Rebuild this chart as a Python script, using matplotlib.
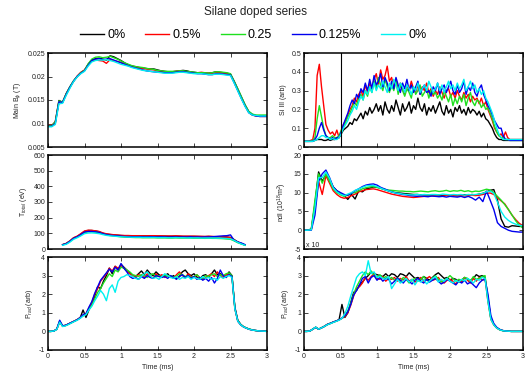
import numpy as np
import matplotlib
matplotlib.use("Agg")
import matplotlib.pyplot as plt
from matplotlib.ticker import FuncFormatter

plt.rcParams['font.family'] = ['Liberation Sans', 'DejaVu Sans']
plt.rcParams['mathtext.fontset'] = 'custom'
plt.rcParams['mathtext.rm'] = 'Liberation Sans'
plt.rcParams['mathtext.it'] = 'Liberation Sans:italic'

# ---------------- data ----------------
series_labels = ["0%", "0.5%", "0.25", "0.125%", "0%"]
series_colors = ["#000000", "#ff0000", "#1ee01e", "#0000ee", "#00f0f0"]

# Main B_phi (T x 1e-3), 0..3 ms
bphi_black = [9.5,9.5,10.4,14.9,14.5,16.4,17.8,19.0,20.0,20.8,21.3,22.6,23.5,23.8,23.9,23.7,23.5,24.4,24.2,23.8,23.4,22.9,22.5,22.2,22.1,21.9,21.8,21.7,21.6,21.6,21.4,21.2,21.1,21.0,21.0,21.1,21.2,21.3,21.2,21.0,20.9,20.8,20.8,20.7,20.7,20.8,21.0,20.9,20.8,20.7,20.5,19.0,17.3,15.6,13.9,12.5,11.9,11.7,11.6,11.6,11.6]
bphi_red = [9.6,9.6,10.2,14.7,14.6,16.2,17.7,19.0,20.1,20.9,21.4,22.5,23.3,23.5,23.4,23.3,22.8,23.6,23.4,23.2,23.0,22.7,22.4,22.2,22.0,21.8,21.7,21.6,21.5,21.4,21.2,21.1,21.0,21.0,21.0,21.1,21.2,21.1,21.0,20.9,20.8,20.8,20.9,20.8,20.7,20.7,20.9,20.8,20.8,20.6,20.4,18.8,17.1,15.4,13.8,12.4,11.8,11.6,11.5,11.5,11.5]
bphi_green = [9.5,9.5,10.3,14.8,14.6,16.3,17.8,19.1,20.0,20.8,21.3,22.7,23.7,24.1,24.2,24.0,24.1,24.3,24.0,23.7,23.3,22.9,22.6,22.3,22.1,22.0,21.9,21.7,21.6,21.5,21.3,21.2,21.1,21.1,21.1,21.1,21.2,21.2,21.1,21.0,20.9,20.8,20.8,20.8,20.7,20.8,21.0,21.0,20.9,20.8,20.6,19.0,17.4,15.7,14.0,12.6,12.0,11.8,11.8,11.8,11.8]
bphi_blue = [9.4,9.4,10.0,14.6,14.5,16.2,17.7,19.0,20.0,20.7,21.2,22.4,23.4,23.7,23.8,23.6,23.7,23.8,23.5,23.2,22.9,22.6,22.3,22.0,21.8,21.6,21.4,21.2,21.1,21.0,20.9,20.9,20.8,20.8,20.8,20.9,21.0,21.0,20.9,20.8,20.7,20.6,20.6,20.5,20.4,20.4,20.6,20.6,20.5,20.4,20.3,18.7,17.0,15.3,13.7,12.3,11.8,11.6,11.5,11.5,11.5]
bphi_cyan = [9.3,9.3,9.8,14.2,14.3,16.0,17.5,18.9,19.9,20.6,21.1,22.2,23.1,23.4,23.5,23.5,23.6,23.4,23.2,22.9,22.6,22.4,22.2,21.9,21.7,21.5,21.3,21.2,21.1,21.0,20.9,20.8,20.7,20.7,20.7,20.8,20.9,20.9,20.8,20.7,20.6,20.6,20.6,20.5,20.4,20.4,20.5,20.5,20.4,20.3,20.2,18.6,16.9,15.2,13.6,12.3,11.8,11.7,11.6,11.6,11.6]

# T_total (eV), 0.2..2.7 ms
te_start, te_end = 0.2, 2.7
te_black = [28,35,50,70,80,95,112,118,118,115,110,100,95,92,90,88,86,85,85,84,84,83,83,83,84,83,82,82,82,81,81,82,81,80,80,80,80,80,79,79,80,79,78,78,77,76,74,60,45,35,25]
te_red = [28,36,52,72,82,98,115,120,119,116,112,103,97,94,91,89,87,86,86,85,85,85,84,84,85,85,84,84,83,83,83,84,83,82,82,82,82,81,81,80,81,80,79,79,78,76,72,58,44,34,25]
te_green = [26,33,48,66,76,88,104,110,110,108,104,96,90,86,84,81,78,76,75,74,73,73,72,72,72,72,71,71,71,70,70,71,70,70,70,70,69,69,69,68,69,68,68,67,66,64,62,52,40,32,24]
te_blue = [27,34,49,68,78,92,108,112,112,110,106,98,92,88,86,84,82,80,79,79,78,79,78,77,79,78,77,78,77,76,77,77,76,77,76,78,76,77,76,77,77,78,80,82,84,85,90,55,45,38,28]
te_cyan = [24,30,44,62,72,84,98,102,103,101,98,92,87,84,82,80,78,77,76,75,75,75,74,74,74,74,73,73,73,72,72,73,72,72,71,71,71,71,70,70,70,70,69,69,68,67,65,55,42,32,24]

# P_rad left (arb), 0..3 ms
prl_black = [0,0,0.02,0.12,0.55,0.30,0.33,0.40,0.47,0.55,
             0.62,0.72,1.15,0.75,1.15,1.45,1.90,2.40,2.30,2.70,
             3.00,3.40,3.10,3.50,3.30,3.60,3.45,3.30,3.15,3.00,
             2.95,3.10,3.25,3.05,3.30,3.10,3.00,3.20,3.05,2.95,
             3.00,3.10,2.90,3.00,2.85,2.95,3.20,3.30,3.10,3.00,
             3.10,2.90,2.80,3.00,3.05,2.90,3.10,3.30,3.05,3.10,
             3.00,2.90,3.20,3.00,1.30,0.60,0.38,0.25,0.18,0.12,
             0.08,0.05,0.03,0.02,0.01,0.0]
prl_red = [0,0,0.02,0.12,0.50,0.28,0.32,0.40,0.48,0.56,
           0.64,0.75,0.85,0.95,1.25,1.55,2.00,2.30,2.70,2.90,
           3.10,3.40,3.25,3.50,3.40,3.55,3.40,3.25,3.10,3.00,
           2.95,3.05,3.00,2.90,3.10,3.00,2.85,3.10,2.95,3.05,
           2.90,3.00,2.95,2.85,3.05,3.20,3.00,2.90,3.10,2.95,
           2.90,3.05,2.85,2.80,2.90,3.00,3.10,2.95,3.20,3.00,
           2.90,3.05,3.10,2.95,1.20,0.55,0.35,0.24,0.17,0.11,
           0.07,0.05,0.03,0.02,0.01,0.0]
prl_green = [0,0,0.02,0.12,0.52,0.28,0.31,0.38,0.46,0.54,
             0.62,0.72,0.85,0.92,1.20,1.40,1.75,2.10,2.30,2.60,
             2.85,3.10,2.95,3.30,3.20,3.45,3.40,3.30,3.20,3.05,
             3.00,2.95,3.05,3.00,2.90,3.05,3.10,2.95,3.00,2.90,
             3.05,2.95,3.00,2.90,2.95,3.10,3.05,2.95,3.00,2.90,
             2.95,3.05,2.90,2.85,3.00,2.95,3.05,3.10,2.95,3.05,
             3.00,3.10,3.15,3.00,1.25,0.58,0.37,0.25,0.18,0.12,
             0.08,0.05,0.03,0.02,0.01,0.0]
prl_blue = [0,0,0.02,0.12,0.60,0.30,0.32,0.40,0.48,0.55,
            0.63,0.74,0.90,0.95,1.30,1.60,2.05,2.40,2.75,2.95,
            3.15,3.35,3.20,3.45,3.30,3.65,3.40,3.20,2.95,2.85,
            2.90,2.80,2.95,2.85,3.00,2.90,2.85,3.00,2.95,2.90,
            2.95,2.85,3.00,2.90,2.80,2.95,3.05,2.90,3.00,2.85,
            2.95,2.80,2.90,2.75,2.85,2.70,2.90,2.60,2.85,3.30,
            3.00,2.90,3.05,2.95,1.25,0.55,0.35,0.24,0.17,0.11,
            0.07,0.05,0.03,0.02,0.01,0.0]
prl_cyan = [0,0,0.02,0.10,0.50,0.26,0.30,0.37,0.45,0.53,
            0.60,0.70,0.82,0.90,1.15,1.35,1.65,1.90,2.20,2.00,
            1.65,2.30,2.50,2.10,2.70,2.90,2.95,3.05,3.00,2.95,
            2.85,2.80,2.95,3.10,3.20,3.00,2.85,2.90,2.80,2.95,
            3.10,3.00,2.90,2.85,2.95,2.80,2.90,2.85,2.95,2.80,
            2.90,2.85,2.80,2.95,2.85,2.90,2.80,2.85,2.75,2.95,
            2.85,2.95,3.00,2.90,1.20,0.55,0.35,0.24,0.17,0.11,
            0.07,0.05,0.03,0.02,0.01,0.0]

# Si III (arb), 0..3 ms
si_marker_time = 0.5
si_black = [0.03,0.03,0.03,0.03,0.03,0.035,0.04,0.04,0.04,0.035,
            0.035,0.04,0.035,0.04,0.04,0.045,0.05,0.07,0.09,0.10,
            0.11,0.13,0.12,0.15,0.14,0.16,0.18,0.15,0.19,0.17,
            0.21,0.18,0.20,0.23,0.19,0.22,0.17,0.24,0.20,0.18,
            0.22,0.19,0.25,0.21,0.17,0.23,0.19,0.21,0.24,0.18,
            0.22,0.20,0.26,0.21,0.19,0.23,0.17,0.21,0.19,0.22,
            0.18,0.21,0.24,0.19,0.17,0.22,0.18,0.20,0.16,0.21,
            0.19,0.22,0.18,0.20,0.17,0.21,0.18,0.20,0.19,0.17,
            0.19,0.16,0.18,0.15,0.14,0.12,0.10,0.07,0.05,0.04,
            0.04,0.035,0.035,0.035,0.035,0.035,0.035,0.035,0.035,0.035,0.035]
si_red = [0.03,0.03,0.03,0.035,0.04,0.10,0.38,0.44,0.32,0.22,
          0.12,0.09,0.07,0.08,0.06,0.09,0.05,0.08,0.12,0.14,
          0.17,0.20,0.22,0.26,0.24,0.28,0.30,0.27,0.33,0.29,
          0.34,0.31,0.36,0.39,0.33,0.41,0.36,0.38,0.43,0.35,
          0.37,0.32,0.36,0.30,0.34,0.31,0.28,0.33,0.30,0.35,
          0.31,0.29,0.33,0.28,0.32,0.30,0.34,0.29,0.31,0.27,
          0.30,0.28,0.32,0.29,0.26,0.30,0.31,0.27,0.29,0.26,
          0.30,0.27,0.25,0.29,0.26,0.28,0.24,0.27,0.25,0.26,
          0.23,0.26,0.22,0.24,0.20,0.17,0.14,0.10,0.08,0.06,
          0.07,0.05,0.08,0.05,0.04,0.04,0.04,0.04,0.04,0.04,0.04]
si_green = [0.03,0.03,0.03,0.03,0.035,0.05,0.15,0.22,0.16,0.10,
            0.06,0.05,0.05,0.06,0.05,0.05,0.06,0.09,0.11,0.13,
            0.16,0.18,0.21,0.24,0.22,0.26,0.28,0.25,0.30,0.27,
            0.32,0.29,0.35,0.31,0.37,0.33,0.30,0.36,0.32,0.29,
            0.33,0.30,0.35,0.28,0.33,0.30,0.27,0.31,0.29,0.26,
            0.32,0.28,0.30,0.33,0.27,0.29,0.31,0.26,0.30,0.28,
            0.29,0.26,0.28,0.25,0.30,0.27,0.24,0.28,0.22,0.26,
            0.23,0.27,0.24,0.28,0.22,0.26,0.29,0.24,0.22,0.25,
            0.24,0.21,0.23,0.20,0.21,0.18,0.15,0.11,0.08,0.06,
            0.05,0.05,0.04,0.04,0.035,0.035,0.035,0.035,0.035,0.035,0.035]
si_blue = [0.03,0.03,0.03,0.03,0.03,0.04,0.06,0.10,0.13,0.09,
           0.06,0.05,0.04,0.05,0.04,0.05,0.05,0.08,0.12,0.15,
           0.18,0.22,0.25,0.23,0.28,0.26,0.31,0.29,0.34,0.30,
           0.36,0.31,0.38,0.33,0.35,0.39,0.32,0.37,0.34,0.30,
           0.35,0.31,0.37,0.33,0.29,0.34,0.31,0.36,0.30,0.33,
           0.29,0.32,0.35,0.28,0.31,0.33,0.29,0.30,0.27,0.32,
           0.30,0.34,0.28,0.31,0.33,0.29,0.32,0.35,0.30,0.28,
           0.33,0.29,0.31,0.35,0.28,0.32,0.30,0.34,0.29,0.27,
           0.31,0.33,0.28,0.25,0.22,0.20,0.17,0.14,0.12,0.10,
           0.10,0.06,0.04,0.04,0.035,0.035,0.035,0.035,0.035,0.035,0.035]
si_cyan = [0.03,0.03,0.03,0.03,0.03,0.035,0.04,0.05,0.06,0.06,
           0.05,0.05,0.04,0.045,0.04,0.04,0.05,0.07,0.10,0.12,
           0.14,0.17,0.19,0.22,0.20,0.24,0.27,0.25,0.30,0.28,
           0.32,0.29,0.34,0.30,0.33,0.31,0.35,0.32,0.29,0.34,
           0.31,0.36,0.33,0.30,0.34,0.32,0.29,0.33,0.31,0.28,
           0.32,0.30,0.34,0.29,0.31,0.33,0.30,0.35,0.32,0.29,
           0.31,0.34,0.30,0.33,0.29,0.32,0.35,0.31,0.33,0.30,
           0.34,0.31,0.33,0.36,0.30,0.32,0.35,0.31,0.33,0.29,
           0.31,0.28,0.30,0.26,0.24,0.21,0.18,0.14,0.10,0.07,
           0.05,0.04,0.04,0.04,0.04,0.04,0.04,0.04,0.04,0.04,0.04]

# ndl (1e18 m^-2), 0..3 ms
ndl_black = [0,0,0.3,7,15.5,13,14.8,13.5,11.5,10.5,9.8,9.2,8.2,9.5,8.3,10.5,10.2,11.0,11.2,11.5,11.4,11.2,10.8,10.5,10.2,10.0,9.9,9.8,9.7,9.6,9.5,9.5,9.4,9.4,9.3,9.3,9.4,9.3,9.2,9.3,9.2,9.3,9.2,9.3,9.4,9.3,9.5,9.4,9.6,9.8,10.2,10.6,10.8,8.0,3.0,1.0,0.8,1.2,1.1,1.0,1.0]
ndl_red = [0,0,0.2,6,13,9.5,14.5,12.5,10.5,9.5,8.8,8.5,8.7,9.2,9.6,10.2,10.5,10.8,10.9,11.0,10.8,10.5,10.2,9.9,9.6,9.4,9.2,9.0,8.9,8.8,8.7,8.8,8.9,9.0,9.0,9.1,9.1,9.0,9.1,9.2,9.1,9.2,9.1,9.2,9.1,9.2,9.3,9.2,9.3,9.5,9.8,9.9,9.5,8.6,7.8,7.0,5.5,4.0,2.8,1.8,1.2]
ndl_green = [0,0,0.3,8,15,12.5,15,13,11,10,9.4,9.0,9.3,9.8,10.0,10.5,11.0,11.3,11.5,11.6,11.4,11.1,10.9,10.7,10.6,10.5,10.4,10.4,10.3,10.3,10.2,10.3,10.4,10.3,10.2,10.4,10.5,10.3,10.4,10.6,10.3,10.5,10.4,10.6,10.3,10.5,10.2,10.4,10.3,10.6,10.9,10.7,10.0,9.0,8.0,6.8,5.5,4.0,2.5,1.3,0.6]
ndl_blue = [0,0,0,4,13,15,16,14,11.5,10.5,10.0,9.5,9.3,9.8,10.5,11.0,11.6,12.0,12.2,12.3,12.0,11.4,11.0,10.6,10.2,9.9,9.7,9.5,9.4,9.2,9.1,9.0,9.1,9.0,8.9,9.1,9.0,8.9,9.0,8.8,9.0,8.9,8.8,9.0,8.7,9.0,8.6,8.0,8.8,7.6,10.4,8.0,5.5,2.0,1.0,0.5,0.0,-0.3,-0.4,-0.5,-0.5]
ndl_cyan = [0,0,0.1,6,14,14,15.5,13.8,11.3,10.2,9.6,9.2,9.6,10.0,10.6,11.0,11.4,11.8,11.9,11.9,11.6,11.2,10.8,10.5,10.2,9.9,9.8,9.6,9.5,9.4,9.4,9.5,9.4,9.5,9.4,9.5,9.5,9.4,9.6,9.5,9.4,9.5,9.4,9.5,9.3,9.5,9.4,9.5,9.6,9.8,10.2,10.4,9.8,7.5,5.0,3.5,2.6,2.0,1.6,1.3,1.2]

# P_rad right (arb), 0..3 ms
prr_black = [0,0,0.02,0.12,0.22,0.12,0.20,0.28,0.38,0.44,
             0.50,0.56,0.62,1.45,0.75,1.00,1.55,2.10,2.20,2.50,
             2.65,2.85,3.00,3.20,3.10,3.05,3.00,2.95,3.10,2.95,
             3.10,3.05,2.90,3.10,3.05,2.95,3.15,3.00,2.85,2.90,
             2.80,2.95,2.85,2.75,2.90,3.05,3.15,3.00,2.85,2.90,
             2.75,2.85,2.80,2.65,2.75,2.90,2.80,2.75,2.85,3.05,
             2.95,3.00,2.90,1.80,0.70,0.38,0.20,0.10,0.05,0.02,
             0.01,0,0,0,0,0]
prr_red = [0,0,0.02,0.12,0.22,0.12,0.19,0.27,0.37,0.43,
           0.50,0.55,0.62,0.70,0.80,1.00,1.40,1.90,2.30,2.40,
           2.60,2.90,2.75,2.95,3.10,2.85,2.80,2.95,2.70,2.85,
           2.80,2.90,2.70,2.85,2.75,2.95,2.70,2.80,2.65,2.75,
           2.90,2.70,2.85,2.95,2.75,2.80,2.90,2.70,2.60,2.75,
           2.80,2.70,2.55,2.75,2.65,2.90,2.75,2.60,2.85,2.70,
           2.90,2.75,2.85,1.60,0.65,0.35,0.18,0.09,0.04,0.02,
           0.01,0,0,0,0,0]
prr_green = [0,0,0.02,0.12,0.22,0.12,0.19,0.27,0.36,0.42,
             0.49,0.55,0.62,0.70,0.85,1.10,1.50,2.00,2.40,2.70,
             3.00,3.20,3.05,3.25,3.00,2.90,3.05,2.85,2.95,2.80,
             2.90,2.75,2.85,2.70,2.90,2.80,2.60,2.75,2.85,2.70,
             2.80,2.95,2.75,2.70,2.85,3.00,2.80,2.65,2.75,2.85,
             3.00,2.85,2.70,2.80,2.75,2.90,2.85,2.70,2.95,2.80,
             2.85,2.95,3.00,1.70,0.68,0.36,0.19,0.09,0.04,0.02,
             0.01,0,0,0,0,0]
prr_blue = [0,0,0.02,0.12,0.22,0.12,0.19,0.27,0.37,0.43,
            0.50,0.56,0.62,0.72,0.85,1.05,1.45,1.95,2.20,2.50,
            2.85,2.95,2.60,2.90,3.00,2.75,2.90,2.70,2.85,2.80,
            2.55,2.70,2.85,2.75,2.60,2.80,2.70,2.55,2.75,2.85,
            2.70,2.60,2.80,2.65,2.75,2.85,2.70,2.55,2.65,2.80,
            2.70,2.60,2.50,2.70,2.60,2.75,2.55,2.65,2.50,2.35,
            2.60,2.75,2.80,2.00,0.85,0.42,0.22,0.11,0.05,0.02,
            0.01,0,0,0,0,0]
prr_cyan = [0,0,0.02,0.12,0.23,0.12,0.19,0.27,0.36,0.42,
            0.48,0.54,0.60,0.70,0.95,1.35,1.90,2.40,2.90,3.10,
            3.20,3.00,3.80,3.10,3.20,2.90,2.95,2.85,2.80,2.95,
            2.30,2.55,2.80,2.60,2.70,2.85,2.65,2.80,2.50,2.75,
            2.65,2.80,2.55,2.70,2.85,2.95,2.65,2.80,2.70,2.85,
            2.70,2.60,2.75,2.65,2.80,2.70,2.85,2.75,2.60,2.80,
            2.75,2.90,2.85,1.60,0.65,0.35,0.18,0.09,0.04,0.02,
            0.01,0,0,0,0,0]

t_start, t_end = 0.0, 3.0

# ---------------- figure ----------------
W, H = 530, 374
fig = plt.figure(figsize=(W / 100, H / 100), dpi=100)

def rect(x0, y_top, x1, y_bot):
    return [x0 / W, 1 - y_bot / H, (x1 - x0) / W, (y_bot - y_top) / H]

lx0, lx1 = 48, 267
rx0, rx1 = 304, 523
rows = [(53, 147), (155, 249), (257, 350)]

fmt = FuncFormatter(lambda v, p: "%g" % round(v, 6))

def style(ax, ylim, yticks, ylabel, bottom):
    ax.set_xlim(t_start, t_end)
    ax.set_ylim(*ylim)
    ax.set_xticks(np.arange(0, 3.01, 0.5))
    ax.set_yticks(yticks)
    ax.xaxis.set_major_formatter(fmt)
    ax.yaxis.set_major_formatter(fmt)
    ax.tick_params(direction='in', top=True, right=True, length=3, width=0.6,
                   labelsize=5, pad=2, colors='#222222')
    if not bottom:
        ax.tick_params(labelbottom=False)
    else:
        ax.set_xlabel("Time (ms)", fontsize=5, labelpad=3, color='#222222')
    ax.set_ylabel(ylabel, fontsize=5, labelpad=3, color='#222222')
    for s in ax.spines.values():
        s.set_linewidth(1.1)

def draw(ax, data, t0=t_start, t1=t_end):
    lines = []
    for vals, c in zip(data, series_colors):
        tt = np.linspace(t0, t1, len(vals))
        ln, = ax.plot(tt, vals, color=c, lw=1.0)
        lines.append(ln)
    return lines

ax1 = fig.add_axes(rect(lx0, rows[0][0], lx1, rows[0][1]))
handles = draw(ax1, [np.array(v) * 1e-3 for v in [bphi_black, bphi_red, bphi_green, bphi_blue, bphi_cyan]])
style(ax1, (0.005, 0.025), np.arange(0.005, 0.0251, 0.005), r"Main B$_{\phi}$ (T)", False)

ax2 = fig.add_axes(rect(lx0, rows[1][0], lx1, rows[1][1]))
draw(ax2, [te_black, te_red, te_green, te_blue, te_cyan], te_start, te_end)
style(ax2, (0, 600), np.arange(0, 601, 100), r"T$_{total}$ (eV)", False)

ax3 = fig.add_axes(rect(lx0, rows[2][0], lx1, rows[2][1]))
draw(ax3, [prl_black, prl_red, prl_green, prl_blue, prl_cyan])
style(ax3, (-1, 4), np.arange(-1, 4.1, 1), r"P$_{rad}$ (arb)", True)

ax4 = fig.add_axes(rect(rx0, rows[0][0], rx1, rows[0][1]))
draw(ax4, [si_black, si_red, si_green, si_blue, si_cyan])
ax4.axvline(si_marker_time, color='k', lw=0.8)
style(ax4, (0, 0.5), np.arange(0, 0.51, 0.1), "Si III (arb)", False)

ax5 = fig.add_axes(rect(rx0, rows[1][0], rx1, rows[1][1]))
draw(ax5, [ndl_black, ndl_red, ndl_green, ndl_blue, ndl_cyan])
style(ax5, (-5, 20), np.arange(-5, 20.1, 5), r"ndl (10$^{18}$m$^{2}$)", False)
ax5.text(0.008, 0.02, "x 10", transform=ax5.transAxes, fontsize=5, color='#222222')

ax6 = fig.add_axes(rect(rx0, rows[2][0], rx1, rows[2][1]))
draw(ax6, [prr_black, prr_red, prr_green, prr_blue, prr_cyan])
style(ax6, (-1, 4), np.arange(-1, 4.1, 1), r"P$_{rad}$ (arb)", True)

fig.text(0.483, 0.968, "Silane doped series", ha='center', va='center', fontsize=8.5, color='#222222')
fig.legend(handles, series_labels, loc='center', bbox_to_anchor=(0.478, 0.906), ncol=5,
           frameon=False, fontsize=9, handlelength=1.9, handletextpad=0.25, columnspacing=1.6)

fig.savefig("out.png", dpi=100)
